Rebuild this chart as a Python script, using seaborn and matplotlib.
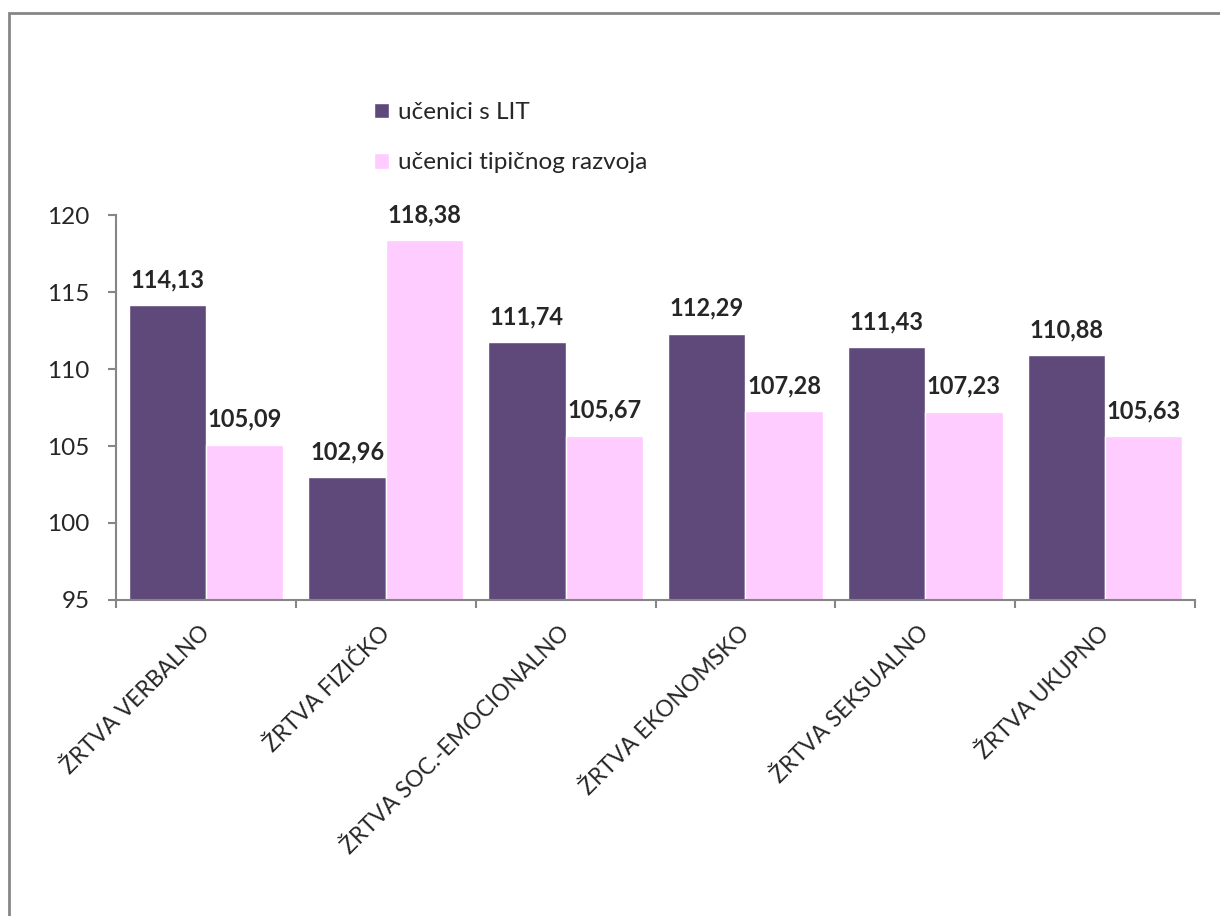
import pandas as pd
import seaborn as sns
import matplotlib.pyplot as plt
from matplotlib.patches import Rectangle
from matplotlib.transforms import ScaledTranslation

# =========================
# data
# =========================
categories = ["ŽRTVA VERBALNO", "ŽRTVA FIZIČKO", "ŽRTVA SOC.-EMOCIONALNO",
              "ŽRTVA EKONOMSKO", "ŽRTVA SEKSUALNO", "ŽRTVA UKUPNO"]
series = ["učenici s LIT", "učenici tipičnog razvoja"]
lit_values = [114.13, 102.96, 111.74, 112.29, 111.43, 110.88]
typical_values = [105.09, 118.38, 105.67, 107.28, 107.23, 105.63]
yticks = [95, 100, 105, 110, 115, 120]

df = pd.DataFrame({
    "kategorija": categories * 2,
    "grupa": [series[0]] * len(categories) + [series[1]] * len(categories),
    "vrijednost": lit_values + typical_values,
})

sns.set_style("white")
plt.rcParams["font.family"] = ["Lato", "DejaVu Sans"]

fig = plt.figure(figsize=(12.2, 9.16), dpi=100)
ax = fig.add_axes([0.0951, 0.345, 0.8844, 0.4202])

sns.barplot(
    data=df, x="kategorija", y="vrijednost", hue="grupa",
    palette=["#5F497A", "#FFCCFF"], width=0.86, gap=0,
    saturation=1, ax=ax, legend=True,
)

ax.set_ylim(95, 120)
ax.set_xlim(-0.5, len(categories) - 0.5)
ax.set_yticks(yticks)
ax.set_yticklabels([str(t) for t in yticks], fontsize=17.5)
ax.set_xlabel("")
ax.set_ylabel("")

# category labels without ticks, boundary ticks as minor ticks
ax.set_xticks(range(len(categories)))
ax.set_xticklabels(categories, rotation=45, ha="right", rotation_mode="anchor", fontsize=16.5)
ax.tick_params(axis="x", which="major", length=0, pad=16)
shift = ScaledTranslation(-7 / 100, 0, fig.dpi_scale_trans)
for lbl in ax.get_xticklabels():
    lbl.set_transform(lbl.get_transform() + shift)
ax.set_xticks([i - 0.5 for i in range(len(categories) + 1)], minor=True)
ax.tick_params(axis="x", which="minor", length=6, color="#868686", width=1.5, direction="out", bottom=True)
ax.tick_params(axis="y", length=6, color="#868686", width=1.5, direction="out", left=True, pad=13)

for side in ["top", "right"]:
    ax.spines[side].set_visible(False)
for side in ["left", "bottom"]:
    ax.spines[side].set_color("#868686")
    ax.spines[side].set_linewidth(1.5)

for container in ax.containers:
    labels = [f"{b.get_height():.2f}".replace(".", ",") for b in container]
    ax.bar_label(container, labels=labels, padding=10, fontsize=17, fontweight="bold")

leg = ax.legend(
    loc="upper left", bbox_to_anchor=(0.219, 1.35),
    frameon=False, fontsize=17.5, handlelength=0.6, handleheight=0.6,
    handletextpad=0.4, labelspacing=1.2,
)

# outer chart border
fig.patches.append(Rectangle((0.0074, -0.1), 1.2, 1.0858, transform=fig.transFigure,
                             fill=False, edgecolor="#868686", linewidth=2))

fig.savefig("out.png", dpi=100)
plt.close(fig)
